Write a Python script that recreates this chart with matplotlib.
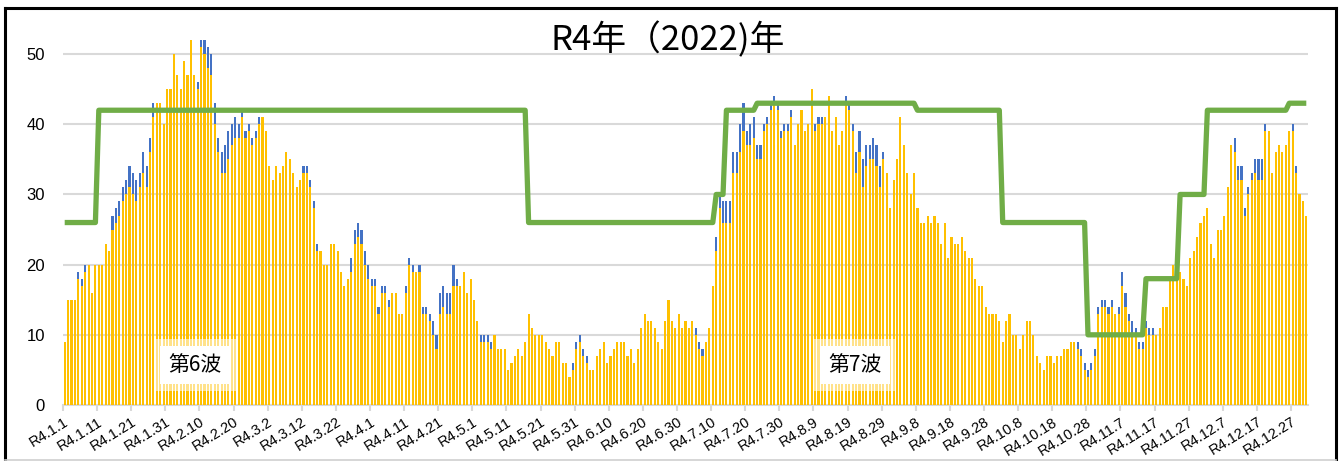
import numpy as np
import matplotlib
matplotlib.use("Agg")
import matplotlib.pyplot as plt
from matplotlib.lines import Line2D

# daily totals for R4 (2022), Jan 1 .. Dec 31, and the blue top part of each bar
daily_total = [
    9, 15, 15, 15, 19, 18, 20, 20, 16, 20,
    20, 20, 23, 22, 27, 28, 29, 31, 32, 34,
    33, 32, 33, 36, 34, 38, 43, 43, 43, 40,
    45, 45, 50, 47, 45, 49, 47, 52, 47, 46,
    52, 52, 51, 50, 43, 38, 36, 37, 39, 40,
    41, 40, 42, 39, 40, 38, 39, 41, 41, 39,
    34, 32, 34, 33, 34, 36, 35, 33, 31, 32,
    34, 34, 32, 29, 23, 22, 20, 20, 23, 23,
    22, 19, 17, 18, 21, 25, 26, 25, 22, 20,
    18, 18, 14, 17, 17, 15, 16, 16, 13, 13,
    17, 21, 20, 19, 20, 14, 14, 13, 12, 10,
    16, 17, 16, 16, 20, 18, 17, 19, 16, 18,
    15, 12, 10, 10, 10, 9, 10, 8, 8, 8,
    5, 6, 7, 8, 7, 9, 13, 11, 10, 10,
    10, 9, 8, 7, 9, 9, 6, 6, 4, 6,
    9, 10, 8, 7, 5, 5, 7, 8, 9, 6,
    7, 8, 9, 9, 9, 7, 8, 6, 8, 11,
    13, 12, 12, 11, 9, 8, 12, 15, 12, 11,
    13, 11, 12, 11, 12, 11, 9, 8, 9, 11,
    17, 24, 30, 29, 29, 29, 36, 36, 40, 43,
    39, 40, 41, 37, 37, 40, 41, 43, 44, 43,
    39, 40, 40, 42, 37, 40, 42, 39, 40, 45,
    40, 41, 41, 41, 44, 39, 41, 37, 39, 44,
    43, 40, 36, 39, 35, 37, 37, 38, 37, 34,
    36, 33, 28, 32, 35, 41, 37, 33, 30, 33,
    28, 26, 26, 27, 26, 27, 26, 23, 26, 21,
    24, 23, 23, 24, 22, 21, 21, 18, 17, 17,
    14, 13, 13, 13, 12, 9, 12, 13, 10, 10,
    8, 10, 12, 12, 10, 7, 6, 5, 7, 7,
    6, 7, 7, 8, 8, 9, 9, 9, 8, 6,
    5, 6, 8, 14, 15, 15, 14, 15, 13, 14,
    19, 16, 13, 12, 11, 9, 9, 12, 11, 11,
    10, 11, 14, 14, 18, 20, 19, 19, 18, 17,
    21, 22, 24, 26, 27, 28, 23, 21, 25, 25,
    27, 31, 37, 38, 34, 34, 28, 31, 33, 35,
    35, 35, 40, 39, 33, 36, 37, 36, 37, 39,
    40, 34, 30, 29, 27,
]

daily_blue = [
    0, 0, 0, 0, 1, 1, 1, 0, 0, 0,
    0, 0, 0, 0, 2, 2, 2, 2, 2, 3,
    3, 3, 2, 3, 3, 2, 2, 0, 0, 0,
    0, 0, 0, 0, 0, 0, 0, 0, 0, 1,
    1, 2, 3, 3, 3, 2, 3, 4, 4, 3,
    3, 2, 1, 1, 1, 1, 1, 1, 0, 0,
    0, 0, 0, 0, 0, 0, 0, 0, 0, 0,
    1, 1, 1, 1, 1, 0, 0, 0, 0, 0,
    0, 0, 0, 0, 2, 2, 2, 2, 2, 2,
    1, 1, 1, 1, 1, 1, 0, 0, 0, 0,
    1, 1, 1, 0, 1, 1, 1, 1, 2, 2,
    3, 3, 3, 3, 3, 1, 0, 0, 0, 0,
    0, 0, 1, 1, 1, 1, 0, 0, 0, 0,
    0, 0, 0, 0, 0, 0, 0, 0, 0, 0,
    0, 0, 0, 0, 0, 0, 0, 0, 0, 1,
    1, 1, 1, 1, 0, 0, 0, 0, 0, 0,
    0, 0, 0, 0, 0, 0, 0, 0, 0, 0,
    0, 0, 0, 0, 0, 0, 0, 0, 0, 0,
    0, 0, 0, 0, 0, 1, 1, 1, 0, 0,
    0, 2, 2, 3, 3, 3, 3, 3, 4, 4,
    2, 3, 3, 2, 2, 1, 1, 1, 1, 1,
    1, 1, 1, 1, 0, 0, 0, 0, 0, 0,
    1, 1, 1, 0, 0, 0, 0, 0, 0, 1,
    1, 1, 3, 3, 4, 3, 2, 3, 3, 3,
    1, 0, 0, 0, 0, 0, 0, 0, 0, 0,
    0, 0, 0, 0, 0, 0, 0, 0, 0, 0,
    0, 0, 0, 0, 0, 0, 0, 0, 0, 0,
    0, 0, 0, 0, 0, 0, 0, 0, 0, 0,
    0, 0, 0, 0, 0, 0, 0, 0, 0, 0,
    0, 0, 0, 0, 0, 0, 0, 1, 1, 1,
    1, 1, 1, 1, 1, 1, 1, 1, 0, 1,
    2, 2, 1, 2, 1, 1, 1, 1, 1, 1,
    0, 0, 0, 0, 0, 0, 0, 0, 0, 0,
    0, 0, 0, 0, 0, 0, 0, 0, 0, 0,
    0, 0, 0, 2, 2, 2, 1, 1, 1, 2,
    3, 3, 1, 0, 0, 0, 0, 0, 0, 0,
    1, 1, 0, 0, 0,
]

# green step line: level and how many days it holds
bed_levels = [26, 42, 26, 30, 42, 43, 42, 26, 10, 18, 30, 42, 43]
bed_runs = [10, 126, 55, 3, 9, 47, 25, 25, 17, 10, 8, 24, 6]

tick_labels = [
    "R4.1.1", "R4.1.11", "R4.1.21", "R4.1.31", "R4.2.10", "R4.2.20",
    "R4.3.2", "R4.3.12", "R4.3.22", "R4.4.1", "R4.4.11", "R4.4.21",
    "R4.5.1", "R4.5.11", "R4.5.21", "R4.5.31", "R4.6.10", "R4.6.20",
    "R4.6.30", "R4.7.10", "R4.7.20", "R4.7.30", "R4.8.9", "R4.8.19",
    "R4.8.29", "R4.9.8", "R4.9.18", "R4.9.28", "R4.10.8", "R4.10.18",
    "R4.10.28", "R4.11.7", "R4.11.17", "R4.11.27", "R4.12.7", "R4.12.17",
    "R4.12.27",
]

jp = ["Noto Sans CJK JP", "DejaVu Sans"]

total = np.array(daily_total)
blue = np.array(daily_blue)
yellow = total - blue
days = np.arange(len(total))
beds = np.repeat(bed_levels, bed_runs)

W, H = 1343, 461
fig = plt.figure(figsize=(W / 100, H / 100), dpi=100)
ax = fig.add_axes([63 / W, 56 / H, 1245 / W, 386 / H])

ax.bar(days, yellow, width=0.62, color="#FFC000", zorder=2)
ax.bar(days, blue, width=0.62, bottom=yellow, color="#4472C4", zorder=2)
ax.plot(days, beds, color="#70AD47", lw=3.8, solid_joinstyle="round",
        solid_capstyle="butt", zorder=3)

ax.set_xlim(-0.5, len(total) - 0.5)
ax.set_ylim(0, 55)
ax.set_yticks(range(0, 51, 10))
ax.yaxis.grid(True, color="#D9D9D9", lw=1.5)
ax.set_axisbelow(True)
for s in ["top", "right", "left"]:
    ax.spines[s].set_visible(False)
ax.spines["bottom"].set_color("#D9D9D9")
ax.spines["bottom"].set_linewidth(1.5)
ax.spines["bottom"].set_zorder(1)

ax.tick_params(axis="y", length=0, pad=13, labelsize=12)
ax.set_xticks(np.arange(0, 361, 10) - 0.5)
ax.set_xticklabels(tick_labels, rotation=32, ha="right", va="top",
                   rotation_mode="anchor", fontsize=10.5)
ax.tick_params(axis="x", length=4, width=1.5, color="#D9D9D9", pad=3)
for lab in ax.get_xticklabels() + ax.get_yticklabels():
    lab.set_family("Liberation Sans")

# wave labels with soft white boxes
for x, txt in [(38.2, "第6波"), (231.7, "第7波")]:
    ax.text(x, 5.7, txt, ha="center", va="center", fontsize=15, family=jp,
            color="none", zorder=4,
            bbox=dict(boxstyle="square,pad=0.7", fc="white", ec="none", alpha=0.55))
    ax.text(x, 5.7, txt, ha="center", va="center", fontsize=15, family=jp,
            color="black", zorder=5,
            bbox=dict(boxstyle="square,pad=0.4", fc="white", ec="none"))

fig.text(668 / W, 1 - 40 / H, "R4年（2022)年", ha="center", va="center",
         fontsize=25, family=jp)

# outer frame
fig.add_artist(Line2D([5 / W, 5 / W], [0, 1 - 8 / H], color="black", lw=2.2,
                      transform=fig.transFigure))
fig.add_artist(Line2D([5 / W, 1336 / W], [1 - 8 / H, 1 - 8 / H], color="black",
                      lw=2.2, transform=fig.transFigure))
fig.add_artist(Line2D([1336 / W, 1336 / W], [0, 1 - 8 / H], color="black", lw=2.2,
                      transform=fig.transFigure))
fig.add_artist(Line2D([5 / W, 1336 / W], [1 / H, 1 / H], color="#D0D0D0", lw=1.2,
                      transform=fig.transFigure))

fig.savefig("out.png", dpi=100)
